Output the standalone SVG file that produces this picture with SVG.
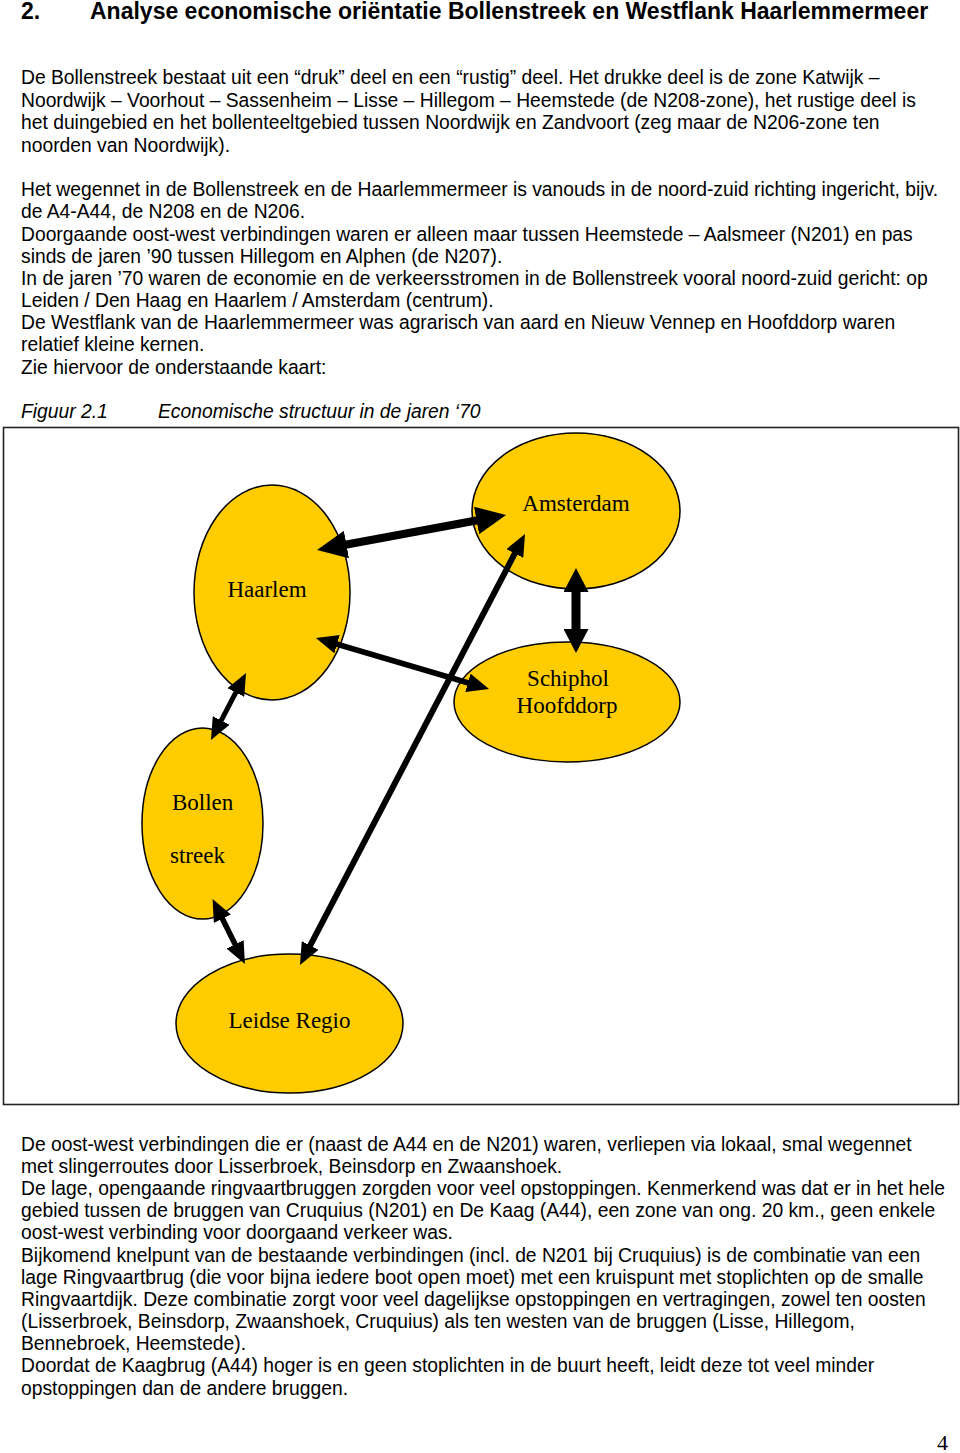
<svg xmlns="http://www.w3.org/2000/svg" width="960" height="1453" viewBox="0 0 960 1453">
<style>
.body{font-family:"Liberation Sans",Arial,sans-serif;font-size:19.3px;fill:#000}
.title{font-family:"Liberation Sans",Arial,sans-serif;font-size:23px;font-weight:bold;fill:#000}
.cap{font-family:"Liberation Sans",Arial,sans-serif;font-size:19.3px;font-style:italic;fill:#000}
.node{fill:#FFCC00;stroke:#000;stroke-width:1.5}
.lbl{font-family:"Liberation Serif","Times New Roman",serif;font-size:23px;fill:#000}
.c{stroke:#000;fill:none;stroke-linecap:butt}
.page{font-family:"Liberation Serif","Times New Roman",serif;font-size:22px;fill:#000}
</style>
<defs>
<marker id="hBig" markerUnits="userSpaceOnUse" markerWidth="30" markerHeight="28" viewBox="0 0 30 28" refX="8" refY="14" orient="auto-start-reverse"><path d="M0,0 L30,14 L0,28 z" fill="#000"/></marker>
<marker id="hMid" markerUnits="userSpaceOnUse" markerWidth="24" markerHeight="25" viewBox="0 0 24 25" refX="6" refY="12.5" orient="auto-start-reverse"><path d="M0,0 L24,12.5 L0,25 z" fill="#000"/></marker>
<marker id="hSm" markerUnits="userSpaceOnUse" markerWidth="22" markerHeight="19" viewBox="0 0 22 19" refX="6" refY="9.5" orient="auto-start-reverse"><path d="M0,0 L22,9.5 L0,19 z" fill="#000"/></marker>
</defs>
<rect width="960" height="1453" fill="#fff"/>

<g id="heading">
<text class="title" x="21" y="19">2.</text>
<text class="title" x="90" y="19">Analyse economische oriëntatie Bollenstreek en Westflank Haarlemmermeer</text>
</g>

<g id="text-top" class="body">
<text x="21" y="84">De Bollenstreek bestaat uit een “druk” deel en een “rustig” deel. Het drukke deel is de zone Katwijk –</text>
<text x="21" y="107">Noordwijk – Voorhout – Sassenheim – Lisse – Hillegom – Heemstede (de N208-zone), het rustige deel is</text>
<text x="21" y="129">het duingebied en het bollenteeltgebied tussen Noordwijk en Zandvoort (zeg maar de N206-zone ten</text>
<text x="21" y="152">noorden van Noordwijk).</text>
<text x="21" y="196">Het wegennet in de Bollenstreek en de Haarlemmermeer is vanouds in de noord-zuid richting ingericht, bijv.</text>
<text x="21" y="218">de A4-A44, de N208 en de N206.</text>
<text x="21" y="241">Doorgaande oost-west verbindingen waren er alleen maar tussen Heemstede – Aalsmeer (N201) en pas</text>
<text x="21" y="263">sinds de jaren ’90 tussen Hillegom en Alphen (de N207).</text>
<text x="21" y="285">In de jaren ’70 waren de economie en de verkeersstromen in de Bollenstreek vooral noord-zuid gericht: op</text>
<text x="21" y="307">Leiden / Den Haag en Haarlem / Amsterdam (centrum).</text>
<text x="21" y="329">De Westflank van de Haarlemmermeer was agrarisch van aard en Nieuw Vennep en Hoofddorp waren</text>
<text x="21" y="351">relatief kleine kernen.</text>
<text x="21" y="374">Zie hiervoor de onderstaande kaart:</text>
</g>

<g id="caption" class="cap">
<text x="21" y="418">Figuur 2.1</text>
<text x="158" y="418">Economische structuur in de jaren ‘70</text>
</g>

<rect id="frame" x="3.5" y="427.5" width="955" height="677" fill="none" stroke="#222" stroke-width="1.6"/>

<g id="amsterdam">
<ellipse class="node" cx="576" cy="511" rx="104" ry="78"/>
<text class="lbl" x="576" y="511" text-anchor="middle">Amsterdam</text>
</g>
<g id="haarlem">
<ellipse class="node" cx="272" cy="592.5" rx="78" ry="107.5"/>
<text class="lbl" x="267" y="597" text-anchor="middle">Haarlem</text>
</g>
<g id="schiphol">
<ellipse class="node" cx="567" cy="702" rx="113" ry="60"/>
<text class="lbl" x="568" y="686" text-anchor="middle">Schiphol</text>
<text class="lbl" x="567" y="713" text-anchor="middle">Hoofddorp</text>
</g>
<g id="bollenstreek">
<ellipse class="node" cx="202.5" cy="823.5" rx="60.5" ry="95.5"/>
<text class="lbl" x="172" y="810">Bollen</text>
<text class="lbl" x="170" y="863">streek</text>
</g>
<g id="leidse-regio">
<ellipse class="node" cx="289.5" cy="1023.5" rx="113.5" ry="69.5"/>
<text class="lbl" x="289.5" y="1028" text-anchor="middle">Leidse Regio</text>
</g>

<g id="connectors">
<line class="c" x1="338.6" y1="546.0" x2="484.4" y2="519.0" stroke-width="8" marker-start="url(#hBig)" marker-end="url(#hBig)"/>
<line class="c" x1="576" y1="586" x2="576" y2="635" stroke-width="9" marker-start="url(#hMid)" marker-end="url(#hMid)"/>
<line class="c" x1="331.3" y1="642.5" x2="473.7" y2="684.5" stroke-width="5.5" marker-start="url(#hSm)" marker-end="url(#hSm)"/>
<line class="c" x1="307.4" y1="950.8" x2="517.6" y2="548.2" stroke-width="6" marker-start="url(#hSm)" marker-end="url(#hSm)"/>
<line class="c" x1="238.6" y1="687.2" x2="218.4" y2="725.8" stroke-width="5" marker-start="url(#hSm)" marker-end="url(#hSm)"/>
<line class="c" x1="219.7" y1="913.3" x2="237.8" y2="949.7" stroke-width="5.5" marker-start="url(#hSm)" marker-end="url(#hSm)"/>
</g>

<g id="text-bottom" class="body">
<text x="21" y="1151">De oost-west verbindingen die er (naast de A44 en de N201) waren, verliepen via lokaal, smal wegennet</text>
<text x="21" y="1173">met slingerroutes door Lisserbroek, Beinsdorp en Zwaanshoek.</text>
<text x="21" y="1195">De lage, opengaande ringvaartbruggen zorgden voor veel opstoppingen. Kenmerkend was dat er in het hele</text>
<text x="21" y="1217">gebied tussen de bruggen van Cruquius (N201) en De Kaag (A44), een zone van ong. 20 km., geen enkele</text>
<text x="21" y="1239">oost-west verbinding voor doorgaand verkeer was.</text>
<text x="21" y="1262">Bijkomend knelpunt van de bestaande verbindingen (incl. de N201 bij Cruquius) is de combinatie van een</text>
<text x="21" y="1284">lage Ringvaartbrug (die voor bijna iedere boot open moet) met een kruispunt met stoplichten op de smalle</text>
<text x="21" y="1306">Ringvaartdijk. Deze combinatie zorgt voor veel dagelijkse opstoppingen en vertragingen, zowel ten oosten</text>
<text x="21" y="1328">(Lisserbroek, Beinsdorp, Zwaanshoek, Cruquius) als ten westen van de bruggen (Lisse, Hillegom,</text>
<text x="21" y="1350">Bennebroek, Heemstede).</text>
<text x="21" y="1372">Doordat de Kaagbrug (A44) hoger is en geen stoplichten in de buurt heeft, leidt deze tot veel minder</text>
<text x="21" y="1395">opstoppingen dan de andere bruggen.</text>
</g>

<text id="page-number" class="page" x="937" y="1450">4</text>
</svg>
